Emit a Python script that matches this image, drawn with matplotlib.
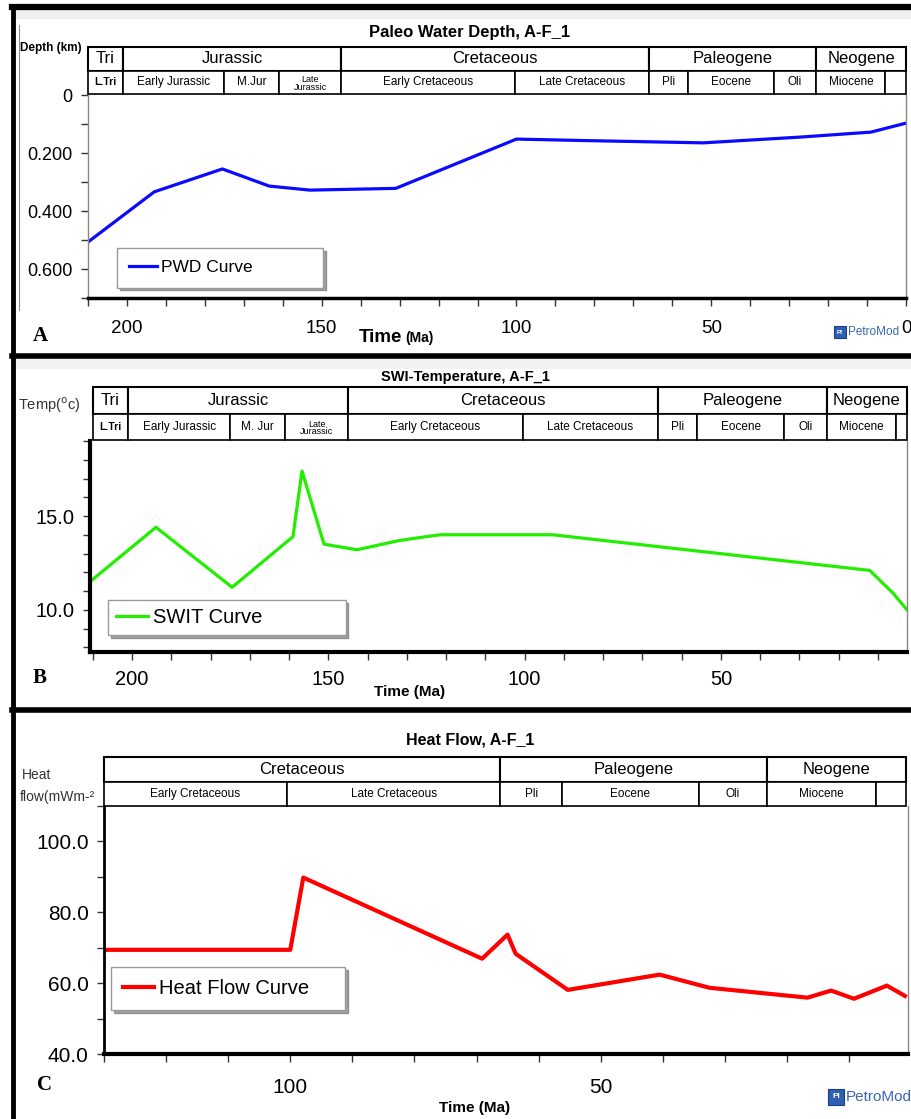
import matplotlib
matplotlib.use('Agg')
import matplotlib.pyplot as plt
from matplotlib.patches import Rectangle
from matplotlib.lines import Line2D
from matplotlib.ticker import MultipleLocator

plt.rcParams['font.family'] = ['Liberation Sans', 'DejaVu Sans']

W, H = 911, 1119

# ---- curves (age in Ma) ----
pwd_age = [210, 193, 175.5, 163.5, 153, 131, 100, 83, 52, 27, 9, 0]
pwd_depth = [0.507, 0.334, 0.255, 0.314, 0.328, 0.322, 0.152, 0.157, 0.165, 0.145, 0.128, 0.097]

swit_age = [210.7, 193.9, 174.5, 159.0, 156.7, 151.1, 142.7, 131.8, 121.6, 92.8, 12.1, 6.2, 2.6]
swit_temp = [11.5, 14.4, 11.2, 13.9, 17.4, 13.5, 13.2, 13.7, 14.0, 14.0, 12.1, 10.9, 10.0]

hf_age = [129.9, 100, 97.9, 69.1, 65.0, 63.7, 55.3, 40.5, 32.5, 16.7, 12.9, 9.2, 3.9, 1.0]
hf_value = [69.4, 69.4, 89.8, 66.9, 73.7, 68.3, 58.1, 62.4, 58.7, 55.9, 57.9, 55.6, 59.3, 56.4]

# ---- stratigraphic columns ----
periods_ab = ['Tri', 'Jurassic', 'Cretaceous', 'Paleogene', 'Neogene']
period_bounds_ab = [210, 201, 145, 66, 23, 0]
epochs_a = ['L.Tri', 'Early Jurassic', 'M.Jur', 'Late\nJurassic', 'Early Cretaceous',
            'Late Cretaceous', 'Pli', 'Eocene', 'Oli', 'Miocene', '']
epochs_b = ['L.Tri', 'Early Jurassic', 'M. Jur', 'Late\nJurassic', 'Early Cretaceous',
            'Late Cretaceous', 'Pli', 'Eocene', 'Oli', 'Miocene', '']
epoch_bounds_ab = [210, 201, 175, 161, 145, 100.5, 66, 56, 34, 23, 5.3, 0]

periods_c = ['Cretaceous', 'Paleogene', 'Neogene']
period_bounds_c = [130, 66, 23, 0]
epochs_c = ['Early Cretaceous', 'Late Cretaceous', 'Pli', 'Eocene', 'Oli', 'Miocene', '']
epoch_bounds_c = [130, 100.5, 66, 56, 34, 23, 5.3, 0]

fig = plt.figure(figsize=(W / 100, H / 100), dpi=100)


def add_axes_px(x0, y0, x1, y1):
    return fig.add_axes([x0 / W, 1 - y1 / H, (x1 - x0) / W, (y1 - y0) / H])


def ftext(x, y, s, **kw):
    return fig.text(x / W, 1 - y / H, s, **kw)


def fline(x0, y0, x1, y1, **kw):
    fig.add_artist(Line2D([x0 / W, x1 / W], [1 - y0 / H, 1 - y1 / H],
                          transform=fig.transFigure, **kw))


def strat_table(tab, xlim, periods, pb, epochs, eb, fs_top=12, fs_bot=8.5):
    tab.set_xlim(xlim)
    tab.set_ylim(0, 2)
    tab.axis('off')
    lo = min(xlim)
    for name, a0, a1 in zip(periods, pb[:-1], pb[1:]):
        a1 = max(a1, lo)
        tab.add_patch(Rectangle((a1, 1), a0 - a1, 1, fc='white', ec='black', lw=1.5, clip_on=False))
        tab.text((a0 + a1) / 2, 1.5, name, ha='center', va='center', fontsize=fs_top)
    for name, a0, a1 in zip(epochs, eb[:-1], eb[1:]):
        a1 = max(a1, lo)
        tab.add_patch(Rectangle((a1, 0), a0 - a1, 1, fc='white', ec='black', lw=1.2, clip_on=False))
        if name == 'L.Tri':
            tab.text((a0 + a1) / 2, 0.5, name, ha='center', va='center', fontsize=7.5, fontweight='bold')
        elif '\n' in name:
            tab.text((a0 + a1) / 2, 0.45, name, ha='center', va='center', fontsize=6.5, linespacing=0.8)
        else:
            tab.text((a0 + a1) / 2, 0.5, name, ha='center', va='center', fontsize=fs_bot)


def style_axes(ax, left_color, left_lw, bottom_lw):
    ax.spines['top'].set_visible(False)
    ax.spines['right'].set_color('#888888')
    ax.spines['right'].set_linewidth(1)
    ax.spines['left'].set_color(left_color)
    ax.spines['left'].set_linewidth(left_lw)
    ax.spines['bottom'].set_color('black')
    ax.spines['bottom'].set_linewidth(bottom_lw)
    ax.tick_params(which='both', direction='out', length=5, width=1, color='#333333')
    ax.tick_params(axis='x', which='both', length=6)


def add_legend(ax, bbox, fs, hl, bp):
    ax.legend(loc='upper left', bbox_to_anchor=bbox, mode='expand', borderaxespad=0,
              fontsize=fs, handlelength=hl, handletextpad=0.25, fancybox=False, shadow=True,
              edgecolor='#999999', borderpad=bp)


# ================= Panel A =================
xlim_a = (210, 0)
ax = add_axes_px(88, 95, 906, 298)
ax.plot(pwd_age, pwd_depth, color='#0a0aff', lw=2.3, label='PWD Curve')
ax.set_xlim(xlim_a)
ax.set_ylim(0.7, 0)
ax.set_xticks([200, 150, 100, 50, 0])
ax.xaxis.set_minor_locator(MultipleLocator(10))
ax.set_yticks([0, 0.2, 0.4, 0.6])
ax.set_yticklabels(['0', '0.200', '0.400', '0.600'])
ax.yaxis.set_minor_locator(MultipleLocator(0.1))
style_axes(ax, '#888888', 1, 2.5)
ax.tick_params(axis='x', labelsize=13.5, pad=10)
ax.tick_params(axis='y', labelsize=13, pad=6)
add_legend(ax, (0.0355, 0.054, 0.252, 0.192), 12.5, 1.6, 0.7)
tab = add_axes_px(88, 47, 906, 94)
strat_table(tab, xlim_a, periods_ab, period_bounds_ab, epochs_a, epoch_bounds_ab)

ftext(470, 33, 'Paleo Water Depth, A-F_1', ha='center', va='center', fontsize=12, fontweight='bold')
ftext(20, 48, 'Depth (km)', ha='left', va='center', fontsize=8.5, fontweight='bold')
ftext(40, 336, 'A', ha='center', va='center', fontsize=15, fontweight='bold', family='Liberation Serif')
ftext(359, 342, 'Time', ha='left', va='baseline', fontsize=13.5, fontweight='bold')
ftext(405, 342, '(Ma)', ha='left', va='baseline', fontsize=10, fontweight='bold')

# ================= Panel B =================
xlim_b = (210.7, 2.6)
bx = add_axes_px(90, 441, 907, 652)
bx.plot(swit_age, swit_temp, color='#22ee00', lw=2.3, label='SWIT Curve')
bx.set_xlim(xlim_b)
bx.set_ylim(7.75, 19.0)
bx.set_xticks([200, 150, 100, 50])
bx.xaxis.set_minor_locator(MultipleLocator(10))
bx.set_yticks([10, 15])
bx.set_yticklabels(['10.0', '15.0'])
bx.yaxis.set_minor_locator(MultipleLocator(1))
style_axes(bx, 'black', 3, 3)
bx.tick_params(axis='x', labelsize=14.5, pad=7)
bx.tick_params(axis='y', labelsize=14.5, pad=6)
add_legend(bx, (0.022, 0.076, 0.291, 0.17), 14.5, 1.6, 0.4)
tab = add_axes_px(90, 387, 907, 440)
strat_table(tab, xlim_b, periods_ab, period_bounds_ab, epochs_b, epoch_bounds_ab)

ftext(465, 377, 'SWI-Temperature, A-F_1', ha='center', va='center', fontsize=10.5, fontweight='bold')
ftext(18, 405, r'Temp($^{\mathrm{o}}$c)', ha='left', va='center', fontsize=10.5, color='#333333')
ftext(40, 678, 'B', ha='center', va='center', fontsize=15, fontweight='bold', family='Liberation Serif')
ftext(410, 692, 'Time (Ma)', ha='center', va='center', fontsize=11, fontweight='bold')

# ================= Panel C =================
xlim_c = (130, 0.5)
cx = add_axes_px(104, 806, 908, 1054)
cx.plot(hf_age, hf_value, color='#ff0000', lw=3, label='Heat Flow Curve')
cx.set_xlim(xlim_c)
cx.set_ylim(40, 110)
cx.set_xticks([100, 50])
cx.xaxis.set_minor_locator(MultipleLocator(10))
cx.set_yticks([40, 60, 80, 100])
cx.set_yticklabels(['40.0', '60.0', '80.0', '100.0'])
cx.yaxis.set_minor_locator(MultipleLocator(10))
style_axes(cx, 'black', 2, 3)
cx.tick_params(axis='x', labelsize=15, pad=11)
cx.tick_params(axis='y', labelsize=15, pad=6)
add_legend(cx, (0.0087, 0.177, 0.291, 0.174), 14.5, 1.55, 0.6)
tab = add_axes_px(106, 757, 906, 806)
strat_table(tab, (129.7, 0.5), periods_c, period_bounds_c, epochs_c, epoch_bounds_c)

ftext(470, 740, 'Heat Flow, A-F_1', ha='center', va='center', fontsize=11.5, fontweight='bold')
ftext(22, 775, 'Heat', ha='left', va='center', fontsize=10, color='#333333')
ftext(20, 797, 'flow(mWm-²', ha='left', va='center', fontsize=10, color='#333333', zorder=-1)
ftext(45, 1085, 'C', ha='center', va='center', fontsize=15, fontweight='bold', family='Liberation Serif')
ftext(475, 1108, 'Time (Ma)', ha='center', va='center', fontsize=11, fontweight='bold')

# ---- PetroMod marks ----
for (sx, sy, sz, fs) in [(834, 326, 12, 8.5), (828, 1089, 16, 11)]:
    fig.add_artist(Rectangle((sx / W, 1 - (sy + sz) / H), sz / W, sz / H,
                             transform=fig.transFigure, fc='#2f5fb3', ec='#1c3f80', lw=0.8))
    ftext(sx + sz / 2, sy + sz / 2, 'PI', ha='center', va='center', fontsize=fs * 0.55,
          color='white', fontweight='bold')
    ftext(sx + sz + 2, sy + sz / 2, 'PetroMod', ha='left', va='center', fontsize=fs, color='#3a66b0')

# ---- screenshot frames ----
fig.add_artist(Rectangle((12 / W, 1 - 19 / H), 899 / W, 9 / H, transform=fig.transFigure,
                         fc='#efefef', ec='none', zorder=-2))
fig.add_artist(Rectangle((12 / W, 1 - 369 / H), 899 / W, 10 / H, transform=fig.transFigure,
                         fc='#f2f2f2', ec='none', zorder=-2))
fline(12, 7, 911, 7, color='black', lw=4.5)
fline(13, 6, 13, 1119, color='black', lw=3.5)
fline(12, 356, 911, 356, color='black', lw=4)
fline(12, 710, 911, 710, color='black', lw=4)
fline(19, 25, 19, 310, color='#888888', lw=0.8)

fig.savefig('out.png', dpi=100)
